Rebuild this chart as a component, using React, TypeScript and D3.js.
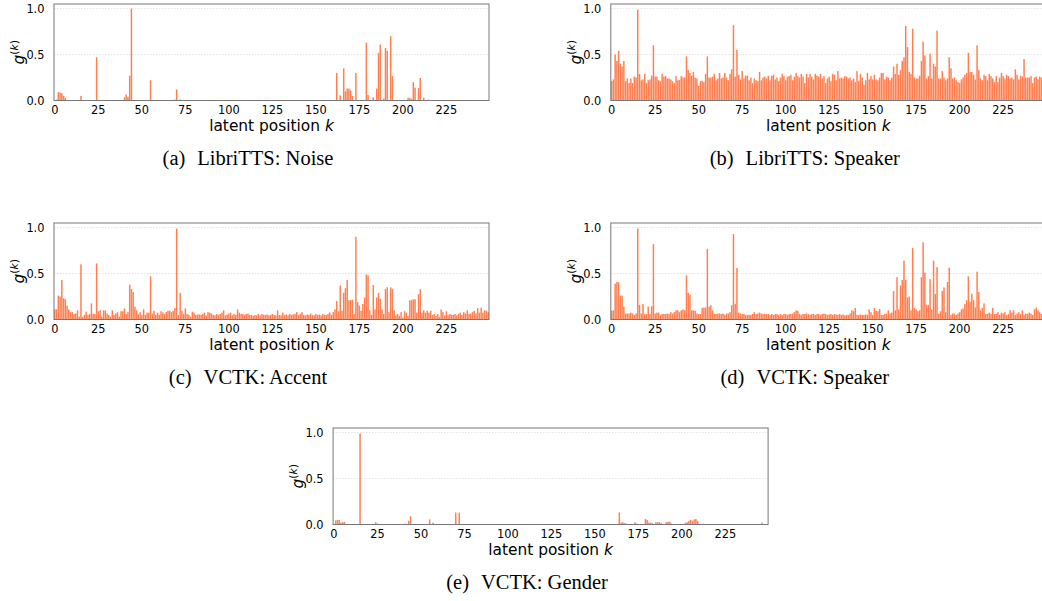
import React from "react";
import * as d3 from "d3";

// latent positions 0..249
const positions: number[] = d3.range(250);
const xTickValues = [0, 25, 50, 75, 100, 125, 150, 175, 200, 225];
const yTickValues = [0, 0.5, 1.0];

// (a) LibriTTS: Noise
const libriNoise = [
  0, 0.01, 0.09, 0.085, 0.08, 0.05, 0.03, 0, 0, 0,
  0, 0, 0, 0, 0, 0.05, 0.005, 0, 0, 0,
  0, 0, 0, 0, 0.47, 0, 0, 0, 0, 0.005,
  0.005, 0, 0, 0, 0, 0, 0, 0, 0, 0,
  0.035, 0.065, 0.04, 0.27, 1.0, 0, 0, 0, 0, 0,
  0, 0, 0, 0, 0, 0.22, 0, 0, 0, 0,
  0, 0, 0, 0, 0.005, 0, 0, 0, 0, 0.01,
  0.12, 0, 0.012, 0, 0, 0.005, 0, 0, 0.005, 0,
  0, 0, 0, 0.005, 0, 0, 0, 0, 0, 0,
  0, 0, 0, 0, 0, 0, 0, 0, 0.005, 0,
  0, 0, 0, 0, 0, 0, 0, 0, 0, 0.005,
  0, 0, 0, 0, 0, 0, 0, 0, 0, 0,
  0, 0, 0, 0, 0, 0, 0.005, 0, 0, 0,
  0, 0, 0, 0, 0.005, 0, 0, 0, 0, 0,
  0, 0, 0, 0.005, 0, 0, 0, 0, 0, 0,
  0, 0, 0, 0.005, 0, 0, 0, 0, 0.005, 0,
  0, 0, 0.3, 0, 0.056, 0, 0.35, 0.1, 0.13, 0.13,
  0.11, 0.05, 0, 0.3, 0, 0, 0, 0, 0, 0.63,
  0.06, 0, 0, 0.035, 0, 0.13, 0.52, 0.61, 0, 0.02,
  0.57, 0.54, 0, 0.7, 0.265, 0, 0, 0, 0, 0,
  0, 0, 0, 0.03, 0.025, 0.02, 0.2, 0.14, 0, 0.135,
  0.245, 0, 0.03, 0, 0, 0.01, 0, 0, 0, 0,
  0, 0, 0, 0.005, 0, 0, 0, 0, 0.005, 0,
  0, 0, 0, 0, 0, 0, 0, 0, 0, 0,
  0, 0, 0, 0, 0, 0, 0, 0.005, 0, 0,
];

// (b) LibriTTS: Speaker
const libriSpeaker = [
  0.21, 0.23, 0.5, 0.43, 0.54, 0.4, 0.37, 0.43, 0.21, 0.24,
  0.19, 0.24, 0.19, 0.26, 0.25, 0.99, 0.29, 0.22, 0.23, 0.29,
  0.19, 0.22, 0.23, 0.27, 0.6, 0.26, 0.26, 0.22, 0.21, 0.29,
  0.26, 0.265, 0.24, 0.24, 0.23, 0.21, 0.19, 0.265, 0.22, 0.225,
  0.265, 0.25, 0.25, 0.48, 0.33, 0.3, 0.27, 0.31, 0.25, 0.24,
  0.16, 0.21, 0.215, 0.2, 0.29, 0.48, 0.25, 0.25, 0.26, 0.29,
  0.22, 0.24, 0.3, 0.24, 0.25, 0.3, 0.25, 0.22, 0.29, 0.34,
  0.82, 0.26, 0.55, 0.28, 0.23, 0.32, 0.24, 0.27, 0.27, 0.22,
  0.25, 0.19, 0.24, 0.22, 0.21, 0.31, 0.22, 0.25, 0.26, 0.24,
  0.27, 0.22, 0.27, 0.28, 0.23, 0.25, 0.21, 0.25, 0.29, 0.265,
  0.22, 0.26, 0.265, 0.28, 0.22, 0.26, 0.3, 0.265, 0.25, 0.29,
  0.26, 0.19, 0.29, 0.25, 0.29, 0.26, 0.23, 0.29, 0.27, 0.26,
  0.29, 0.24, 0.265, 0.19, 0.24, 0.26, 0.21, 0.29, 0.28, 0.22,
  0.32, 0.24, 0.25, 0.24, 0.265, 0.26, 0.24, 0.25, 0.22, 0.24,
  0.2, 0.32, 0.21, 0.29, 0.25, 0.17, 0.22, 0.3, 0.23, 0.265,
  0.23, 0.28, 0.23, 0.22, 0.25, 0.3, 0.3, 0.23, 0.26, 0.25,
  0.22, 0.25, 0.37, 0.29, 0.4, 0.28, 0.33, 0.43, 0.47, 0.81,
  0.58, 0.31, 0.29, 0.78, 0.25, 0.24, 0.24, 0.27, 0.43, 0.64,
  0.49, 0.24, 0.265, 0.51, 0.24, 0.4, 0.37, 0.76, 0.24, 0.24,
  0.32, 0.25, 0.22, 0.24, 0.47, 0.35, 0.24, 0.25, 0.22, 0.2,
  0.19, 0.23, 0.25, 0.28, 0.3, 0.52, 0.31, 0.31, 0.28, 0.23,
  0.6, 0.33, 0.24, 0.22, 0.28, 0.265, 0.22, 0.29, 0.265, 0.24,
  0.2, 0.265, 0.2, 0.25, 0.3, 0.265, 0.24, 0.28, 0.265, 0.24,
  0.25, 0.23, 0.34, 0.28, 0.23, 0.27, 0.26, 0.45, 0.25, 0.25,
  0.25, 0.265, 0.19, 0.25, 0.26, 0.23, 0.26, 0.25, 0.24, 0.25,
];

// (c) VCTK: Accent
const vctkAccent = [
  0.11, 0.11, 0.26, 0.25, 0.43, 0.23, 0.22, 0.15, 0.11, 0.08,
  0.08, 0.06, 0.065, 0.1, 0.03, 0.6, 0.03, 0.05, 0.085, 0.05,
  0.06, 0.175, 0.06, 0.06, 0.61, 0.09, 0.1, 0.03, 0.1, 0.1,
  0.065, 0.05, 0.03, 0.1, 0.05, 0.065, 0.08, 0.03, 0.09, 0.09,
  0.12, 0.06, 0.08, 0.38, 0.33, 0.3, 0.14, 0.1, 0.055, 0.08,
  0.05, 0.11, 0.05, 0.075, 0.075, 0.47, 0.065, 0.095, 0.05, 0.075,
  0.05, 0.09, 0.075, 0.06, 0.08, 0.095, 0.095, 0.08, 0.095, 0.125,
  0.99, 0.05, 0.29, 0.095, 0.06, 0.12, 0.06, 0.05, 0.03, 0.085,
  0.075, 0.05, 0.055, 0.055, 0.05, 0.06, 0.075, 0.045, 0.08, 0.075,
  0.065, 0.05, 0.045, 0.06, 0.05, 0.06, 0.075, 0.1, 0.045, 0.055,
  0.065, 0.075, 0.045, 0.06, 0.05, 0.11, 0.075, 0.06, 0.06, 0.05,
  0.06, 0.065, 0.05, 0.05, 0.04, 0.05, 0.045, 0.06, 0.045, 0.06,
  0.05, 0.05, 0.055, 0.045, 0.05, 0.06, 0.05, 0.045, 0.1, 0.05,
  0.045, 0.075, 0.05, 0.055, 0.045, 0.06, 0.05, 0.055, 0.06, 0.08,
  0.05, 0.06, 0.08, 0.05, 0.045, 0.055, 0.05, 0.065, 0.05, 0.045,
  0.06, 0.05, 0.055, 0.045, 0.06, 0.05, 0.05, 0.06, 0.075, 0.05,
  0.08, 0.11, 0.2, 0.09, 0.37, 0.095, 0.29, 0.34, 0.43, 0.21,
  0.21, 0.215, 0.06, 0.9, 0.19, 0.15, 0.095, 0.17, 0.24, 0.49,
  0.48, 0.1, 0.05, 0.375, 0.11, 0.24, 0.29, 0.225, 0.11, 0.06,
  0.33, 0.35, 0.08, 0.35, 0.33, 0.1, 0.045, 0.06, 0.04, 0.08,
  0.02, 0.09, 0.075, 0.04, 0.21, 0.21, 0.22, 0.22, 0.075, 0.275,
  0.33, 0.075, 0.1, 0.075, 0.095, 0.075, 0.095, 0.05, 0.06, 0.04,
  0.06, 0.03, 0.11, 0.08, 0.045, 0.09, 0.045, 0.06, 0.05, 0.05,
  0.06, 0.045, 0.06, 0.075, 0.05, 0.08, 0.065, 0.1, 0.06, 0.065,
  0.08, 0.095, 0.065, 0.125, 0.075, 0.13, 0.075, 0.1, 0.095, 0.08,
];

// (d) VCTK: Speaker
const vctkSpeaker = [
  0.095, 0.1, 0.39, 0.41, 0.405, 0.26, 0.26, 0.14, 0.065, 0.065,
  0.065, 0.075, 0.065, 0.05, 0.065, 0.99, 0.16, 0.065, 0.17, 0.06,
  0.06, 0.14, 0.06, 0.145, 0.82, 0.065, 0.075, 0.075, 0.05, 0.06,
  0.06, 0.06, 0.065, 0.06, 0.08, 0.065, 0.08, 0.1, 0.1, 0.08,
  0.1, 0.11, 0.1, 0.48, 0.29, 0.27, 0.1, 0.1, 0.095, 0.065,
  0.06, 0.06, 0.125, 0.13, 0.13, 0.77, 0.14, 0.155, 0.1, 0.06,
  0.06, 0.065, 0.065, 0.06, 0.065, 0.05, 0.065, 0.065, 0.08, 0.155,
  0.93, 0.17, 0.56, 0.075, 0.065, 0.06, 0.06, 0.05, 0.05, 0.05,
  0.05, 0.06, 0.08, 0.06, 0.065, 0.075, 0.065, 0.06, 0.06, 0.06,
  0.06, 0.05, 0.06, 0.05, 0.06, 0.06, 0.05, 0.06, 0.05, 0.06,
  0.06, 0.05, 0.06, 0.06, 0.065, 0.08, 0.1, 0.095, 0.06, 0.05,
  0.06, 0.06, 0.065, 0.06, 0.05, 0.06, 0.06, 0.05, 0.06, 0.06,
  0.05, 0.06, 0.065, 0.06, 0.05, 0.055, 0.06, 0.05, 0.06, 0.055,
  0.05, 0.06, 0.05, 0.055, 0.045, 0.05, 0.05, 0.065, 0.1, 0.09,
  0.125, 0.05, 0.05, 0.055, 0.05, 0.05, 0.055, 0.05, 0.11, 0.08,
  0.05, 0.125, 0.095, 0.09, 0.115, 0.05, 0.05, 0.06, 0.065, 0.1,
  0.065, 0.075, 0.31, 0.1, 0.46, 0.11, 0.37, 0.43, 0.64, 0.43,
  0.24, 0.25, 0.1, 0.78, 0.125, 0.11, 0.09, 0.1, 0.46, 0.84,
  0.51, 0.16, 0.16, 0.44, 0.11, 0.64, 0.28, 0.57, 0.065, 0.09,
  0.31, 0.35, 0.08, 0.41, 0.565, 0.05, 0.065, 0.065, 0.05, 0.065,
  0.08, 0.11, 0.12, 0.17, 0.21, 0.47, 0.19, 0.28, 0.21, 0.13,
  0.52, 0.3, 0.1, 0.125, 0.175, 0.06, 0.06, 0.075, 0.06, 0.125,
  0.06, 0.06, 0.08, 0.05, 0.075, 0.065, 0.08, 0.05, 0.06, 0.1,
  0.075, 0.1, 0.05, 0.065, 0.08, 0.06, 0.1, 0.05, 0.065, 0.06,
  0.075, 0.065, 0.05, 0.11, 0.13, 0.1, 0.08, 0.06, 0.07, 0.07,
];

// (e) VCTK: Gender
const vctkGender = [
  0, 0.045, 0.05, 0.05, 0.02, 0.025, 0.03, 0, 0, 0,
  0, 0, 0, 0, 0, 0.99, 0, 0, 0, 0,
  0, 0, 0, 0, 0.025, 0.01, 0, 0, 0, 0,
  0, 0, 0.005, 0, 0, 0, 0, 0, 0, 0,
  0, 0.01, 0, 0.04, 0.09, 0, 0, 0.005, 0, 0,
  0, 0, 0, 0, 0, 0.055, 0, 0.02, 0, 0,
  0, 0, 0, 0, 0, 0, 0, 0, 0, 0.005,
  0.13, 0, 0.13, 0, 0, 0, 0, 0, 0, 0,
  0, 0, 0, 0, 0, 0, 0.005, 0, 0, 0,
  0, 0, 0, 0, 0, 0, 0, 0, 0, 0,
  0, 0, 0, 0, 0, 0.005, 0, 0, 0, 0,
  0, 0.005, 0, 0, 0, 0, 0, 0, 0, 0,
  0, 0, 0, 0, 0, 0, 0, 0, 0, 0,
  0, 0.005, 0, 0, 0, 0, 0, 0, 0, 0,
  0, 0, 0, 0, 0, 0.005, 0, 0, 0, 0,
  0, 0, 0, 0, 0, 0, 0, 0, 0, 0,
  0, 0, 0, 0, 0.13, 0.02, 0.025, 0.015, 0.01, 0,
  0, 0, 0, 0.025, 0.01, 0, 0, 0, 0, 0.06,
  0.05, 0.02, 0.02, 0.015, 0, 0.025, 0.025, 0.025, 0.015, 0,
  0, 0.025, 0.03, 0.03, 0.01, 0, 0, 0, 0, 0,
  0, 0, 0.02, 0.025, 0.04, 0.05, 0.04, 0.055, 0.06, 0.04,
  0, 0, 0.008, 0, 0, 0, 0, 0, 0, 0,
  0.005, 0, 0, 0, 0, 0, 0, 0, 0, 0,
  0, 0.005, 0, 0, 0, 0, 0, 0, 0, 0,
  0, 0, 0, 0, 0, 0, 0.02, 0, 0, 0,
];

const panelLabels = ["(a)", "(b)", "(c)", "(d)", "(e)"];
const panelTitles = [
  "LibriTTS: Noise",
  "LibriTTS: Speaker",
  "VCTK: Accent",
  "VCTK: Speaker",
  "VCTK: Gender",
];
const panelSeries = [libriNoise, libriSpeaker, vctkAccent, vctkSpeaker, vctkGender];
// where each sub-figure sits on the page
const panelOffsets = [
  [0, 0],
  [556.8, 0],
  [0, 219],
  [556.8, 219],
  [279.1, 424],
];

const W = 1042;
const H = 601;
const AX = { left: 54, right: 489, top: 4, bottom: 100.5 };
const BAR_COLOR = "#ff7f50";
const SANS = "'DejaVu Sans', sans-serif";
const SERIF = "'Liberation Serif', 'Times New Roman', serif";

const x = d3.scaleLinear().domain([-0.5, 249.5]).range([AX.left, AX.right]);
const y = d3.scaleLinear().domain([0, 1.05]).range([AX.bottom, AX.top]);
const barW = x(0.85) - x(0);

function Panel({ values, label, title, dx, dy }: any) {
  const cx = (AX.left + AX.right) / 2;
  return (
    <g transform={`translate(${dx},${dy})`}>
      {yTickValues
        .filter((t) => t > 0)
        .map((t) => (
          <line
            key={"g" + t}
            x1={AX.left}
            x2={AX.right}
            y1={y(t)}
            y2={y(t)}
            stroke="#dcdcdc"
            strokeWidth={0.8}
            strokeDasharray="1.5,1.5"
          />
        ))}
      {positions.map((k) =>
        values[k] > 0 ? (
          <rect
            key={k}
            x={x(k) - barW / 2}
            y={y(values[k])}
            width={barW}
            height={y(0) - y(values[k])}
            fill={BAR_COLOR}
          />
        ) : null
      )}
      <rect
        x={AX.left}
        y={AX.top}
        width={AX.right - AX.left}
        height={AX.bottom - AX.top}
        fill="none"
        stroke="#777"
        strokeWidth={1}
      />
      {xTickValues.map((t) => (
        <text
          key={"x" + t}
          x={x(t)}
          y={114.3}
          textAnchor="middle"
          fontFamily={SANS}
          fontSize={11.4}
          fill="#000"
        >
          {t}
        </text>
      ))}
      {yTickValues.map((t) => (
        <text
          key={"y" + t}
          x={44.5}
          y={y(t)}
          dy="0.36em"
          textAnchor="end"
          fontFamily={SANS}
          fontSize={11.4}
          fill="#000"
        >
          {d3.format(".1f")(t)}
        </text>
      ))}
      <text x={cx} y={130.7} textAnchor="middle" fontFamily={SANS} fontSize={15.4} fill="#000">
        latent position <tspan fontStyle="italic">k</tspan>
      </text>
      <text
        transform={`translate(24,${(AX.top + AX.bottom) / 2}) rotate(-90)`}
        textAnchor="middle"
        fontFamily={SANS}
        fontSize={15.4}
        fill="#000"
      >
        <tspan fontStyle="italic">g</tspan>
        <tspan dy={-6} fontSize={10.8}>(</tspan>
        <tspan fontSize={10.8} fontStyle="italic">k</tspan>
        <tspan fontSize={10.8}>)</tspan>
      </text>
      <text x={248} y={165} textAnchor="middle" fontFamily={SERIF} fontSize={20.5} fill="#000">
        <tspan>{label}</tspan>
        <tspan dx={12}>{title}</tspan>
      </text>
    </g>
  );
}

export default function App() {
  return (
    <svg
      width={W}
      height={H}
      style={{ position: "absolute", left: 0, top: 0, background: "#fff" }}
    >
      <rect width={W} height={H} fill="#fff" />
      {panelSeries.map((vals, i) => (
        <Panel
          key={i}
          values={vals}
          label={panelLabels[i]}
          title={panelTitles[i]}
          dx={panelOffsets[i][0]}
          dy={panelOffsets[i][1]}
        />
      ))}
    </svg>
  );
}
